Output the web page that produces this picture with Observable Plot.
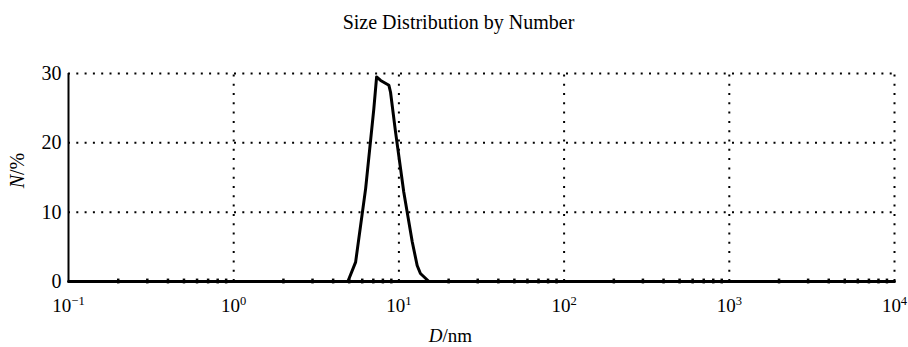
<!DOCTYPE html>
<html>
<head>
<meta charset="utf-8">
<script src="https://cdn.jsdelivr.net/npm/d3@7"></script>
<script src="https://cdn.jsdelivr.net/npm/@observablehq/plot@0.6"></script>
<style>
  html, body { margin: 0; padding: 0; background: #fff; }
  svg { overflow: visible; }
</style>
</head>
<body>
<div id="chart"></div>
<script>
// ---- data ----
const diameter = [0.1, 4.91, 5.47, 6.29, 7.05, 7.33, 7.75, 8.7, 8.9, 9.55, 10.7, 12.05, 12.9, 13.5, 15.2, 10000];
const numberPct = [0, 0, 2.8, 13.4, 24.9, 29.5, 29.0, 28.3, 27.3, 21.5, 12.9, 5.7, 2.3, 1.15, 0, 0];

const xMajorTicks = [0.1, 1, 10, 100, 1000, 10000];
const xExponents = ["−1", "0", "1", "2", "3", "4"];
const xTickLabels = ["10⁻¹", "10⁰", "10¹", "10²", "10³", "10⁴"];
const yTicks = [0, 10, 20, 30];
const yGrid = [10, 20, 30];
const xGrid = [1, 10, 100, 1000, 10000];
const minorMultipliers = [2, 3, 4, 5, 6, 7, 8, 9];
const decades = [0.1, 1, 10, 100, 1000];
const xMinorTicks = decades.flatMap(d => minorMultipliers.map(m => d * m));

const titleText = "Size Distribution by Number";
const xLabel = "D/nm";
const yLabel = "N/%";

const data = diameter.map((d, i) => ({D: d, N: numberPct[i]}));

const plot = Plot.plot({
  width: 908,
  height: 347,
  marginLeft: 68,
  marginRight: 14,
  marginTop: 73,
  marginBottom: 66,
  style: {fontFamily: "'Liberation Serif', 'Times New Roman', serif", fontSize: "18px", color: "#000", background: "#fff"},
  x: {type: "log", domain: [0.1, 10000]},
  y: {domain: [0, 30]},
  marks: [
    // dotted grid
    Plot.ruleY(yGrid, {stroke: "#000", strokeWidth: 2, strokeDasharray: "2,6.3"}),
    Plot.ruleX(xGrid, {y1: 0, y2: 30, stroke: "#000", strokeWidth: 2, strokeDasharray: "2,7.3"}),
    // left axis line
    Plot.ruleX([0.1], {y1: 0, y2: 30, stroke: "#000", strokeWidth: 2}),
    // bottom axis line
    Plot.ruleY([0], {stroke: "#000", strokeWidth: 3}),
    // minor ticks on the baseline
    Plot.ruleX(xMinorTicks, {y1: -0.35, y2: 0.35, stroke: "#000", strokeWidth: 2.5, clip: false}),
    // distribution curve
    Plot.line(data, {x: "D", y: "N", stroke: "#000", strokeWidth: 3, strokeLinejoin: "round"}),
    // axes
    Plot.axisX({ticks: xMajorTicks, tickSize: 0, tickPadding: 16.5, fontSize: 19, label: null,
      tickFormat: d => xTickLabels[xMajorTicks.indexOf(d)]}),
    Plot.axisY({ticks: yTicks, tickSize: 0, tickPadding: 7, fontSize: 20, label: null,
      tickFormat: d => String(d)}),
    // title & axis labels
    Plot.text([titleText], {frameAnchor: "top", lineAnchor: "middle", dx: -23, dy: -51, fontSize: 20}),
    Plot.text([xLabel], {frameAnchor: "bottom", lineAnchor: "middle", dx: -31, dy: 54, fontSize: 19}),
    Plot.text([yLabel], {frameAnchor: "left", textAnchor: "middle", lineAnchor: "middle", dx: -51, dy: -7, rotate: -90, fontSize: 20})
  ]
});

document.getElementById("chart").appendChild(plot);

// typographic touches: superscript exponents and italic symbols
const svg = d3.select(plot);
svg.selectAll('g[aria-label="x-axis tick label"] text').each(function() {
  const t = d3.select(this);
  const idx = xTickLabels.indexOf(t.text());
  if (idx < 0) return;
  t.text(null);
  t.append("tspan").text("10");
  t.append("tspan").attr("dy", "-0.5em").attr("font-size", "0.66em").text(xExponents[idx]);
});
svg.selectAll('g[aria-label="text"] text').each(function() {
  const t = d3.select(this);
  const s = t.text();
  if (s === xLabel || s === yLabel) {
    t.text(null);
    t.append("tspan").attr("font-style", "italic").text(s[0]);
    t.append("tspan").text(s.slice(1));
  }
});
</script>
</body>
</html>
